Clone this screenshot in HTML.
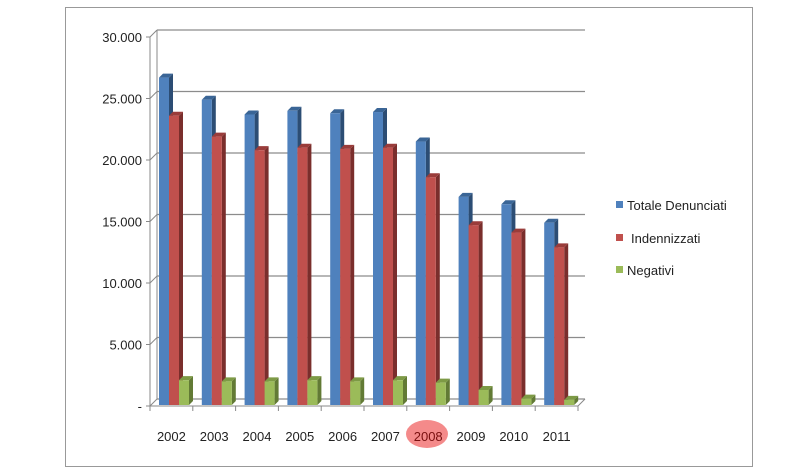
<!DOCTYPE html>
<html><head><meta charset="utf-8"><style>
body{margin:0;background:#fff;}
svg text{font-family:"Liberation Sans",sans-serif;}
</style></head><body>
<svg width="800" height="471" viewBox="0 0 800 471" xmlns="http://www.w3.org/2000/svg">
<rect x="65.5" y="7.5" width="687" height="459" fill="#fff" stroke="#999"/>
<g id="grid"></g>
<g id="axes"></g>
<g id="bars"></g>
<ellipse cx="427" cy="434" rx="21" ry="14" fill="#f48a8a"/>
<g id="xlab"></g>
<g id="ylab"></g>
<g>
<rect x="616" y="201" width="7" height="7" fill="#4f81bd"/>
<text x="627" y="210" font-size="13" fill="#222">Totale Denunciati</text>
<rect x="616" y="234" width="7" height="7" fill="#c0504d"/>
<text x="631" y="243" font-size="13" fill="#222">Indennizzati</text>
<rect x="616" y="266" width="7" height="7" fill="#9bbb59"/>
<text x="627" y="275" font-size="13" fill="#222">Negativi</text>
</g>
</svg>
<script>
const categories=["2002","2003","2004","2005","2006","2007","2008","2009","2010","2011"];
const totale=[26700,24900,23700,24000,23800,23900,21500,17000,16400,14900];
const indennizzati=[23600,21900,20800,21000,20900,21000,18600,14700,14100,12900];
const negativi=[2100,2000,2000,2100,2000,2100,1900,1300,600,500];
const yTicks=[0,5000,10000,15000,20000,25000,30000];
const yTickLabels=["-","5.000","10.000","15.000","20.000","25.000","30.000"];

const NS="http://www.w3.org/2000/svg";
const x0=150,x1=578,yBase=406,pxPer=61.5/5000,dx=7,dy=-7;
const catW=(x1-x0)/categories.length;
function y(v){return yBase-v*pxPer;}
function mk(tag,attrs,parent){const e=document.createElementNS(NS,tag);for(const k in attrs)e.setAttribute(k,attrs[k]);parent.appendChild(e);return e;}
const grid=document.getElementById('grid'),axes=document.getElementById('axes'),bars=document.getElementById('bars'),xl=document.getElementById('xlab'),yl=document.getElementById('ylab');
yTicks.forEach((t,i)=>{
  const gy=y(t)+dy;
  const l=mk('line',{x1:x0+dx,x2:x1+dx,y1:gy,y2:gy,stroke:'#8c8c8c','stroke-width':1.2},grid);
  
  
  const d=mk('line',{x1:x0-4,x2:x0,y1:y(t),y2:y(t),stroke:'#888'},axes);
  
  
  const dg=mk('line',{x1:x0,x2:x0+dx,y1:y(t),y2:gy,stroke:'#888'},axes);
  
  
  const tx=mk('text',{x:x0-8,y:y(t)+5,'text-anchor':'end','font-size':13,fill:'#222'},yl);
  tx.textContent=yTickLabels[i];
  
  
});
mk('line',{x1:x0+dx,x2:x0+dx,y1:y(30000)+dy,y2:yBase+dy,stroke:'#888'},axes);
mk('line',{x1:x0,x2:x0,y1:y(30000),y2:yBase,stroke:'#888'},axes);
mk('line',{x1:x0,x2:x1,y1:yBase,y2:yBase,stroke:'#888'},axes);
mk('line',{x1:x1,x2:x1+dx,y1:yBase,y2:yBase+dy,stroke:'#888'},axes);
categories.forEach((c,i)=>{
  const tx0=x0+i*catW;
  const tk=mk('line',{x1:tx0,x2:tx0,y1:yBase,y2:yBase+5,stroke:'#888'},axes);
  
  
  const t=mk('text',{x:tx0+catW/2,y:441,'text-anchor':'middle','font-size':13,fill:c==='2008'?'#7a1010':'#222'},xl);
  t.textContent=c;
  
  
});
mk('line',{x1:x1,x2:x1,y1:yBase,y2:yBase+5,stroke:'#888'},axes);
const series=[[totale,'#4f81bd','#3a6596','#2c4d74','totale'],[indennizzati,'#c0504d','#9a3c3a','#7a2e2c','indennizzati'],[negativi,'#9bbb59','#7d9a45','#627a35','negativi']];
const bw=10,d=4;
categories.forEach((c,i)=>{
  series.forEach((s,j)=>{
    const v=s[0][i];
    const bx=x0+i*catW+9+j*bw, top=y(v), bot=yBase-1;
    const g=mk('g',{},bars);
    
    
    mk('polygon',{points:`${bx+bw},${top} ${bx+bw+d},${top-d} ${bx+bw+d},${bot-d} ${bx+bw},${bot}`,fill:s[3]},g);
    mk('polygon',{points:`${bx},${top} ${bx+d},${top-d} ${bx+bw+d},${top-d} ${bx+bw},${top}`,fill:s[2]},g);
    mk('rect',{x:bx,y:top,width:bw,height:bot-top,fill:s[1]},g);
  });
});
</script>
</body></html>
